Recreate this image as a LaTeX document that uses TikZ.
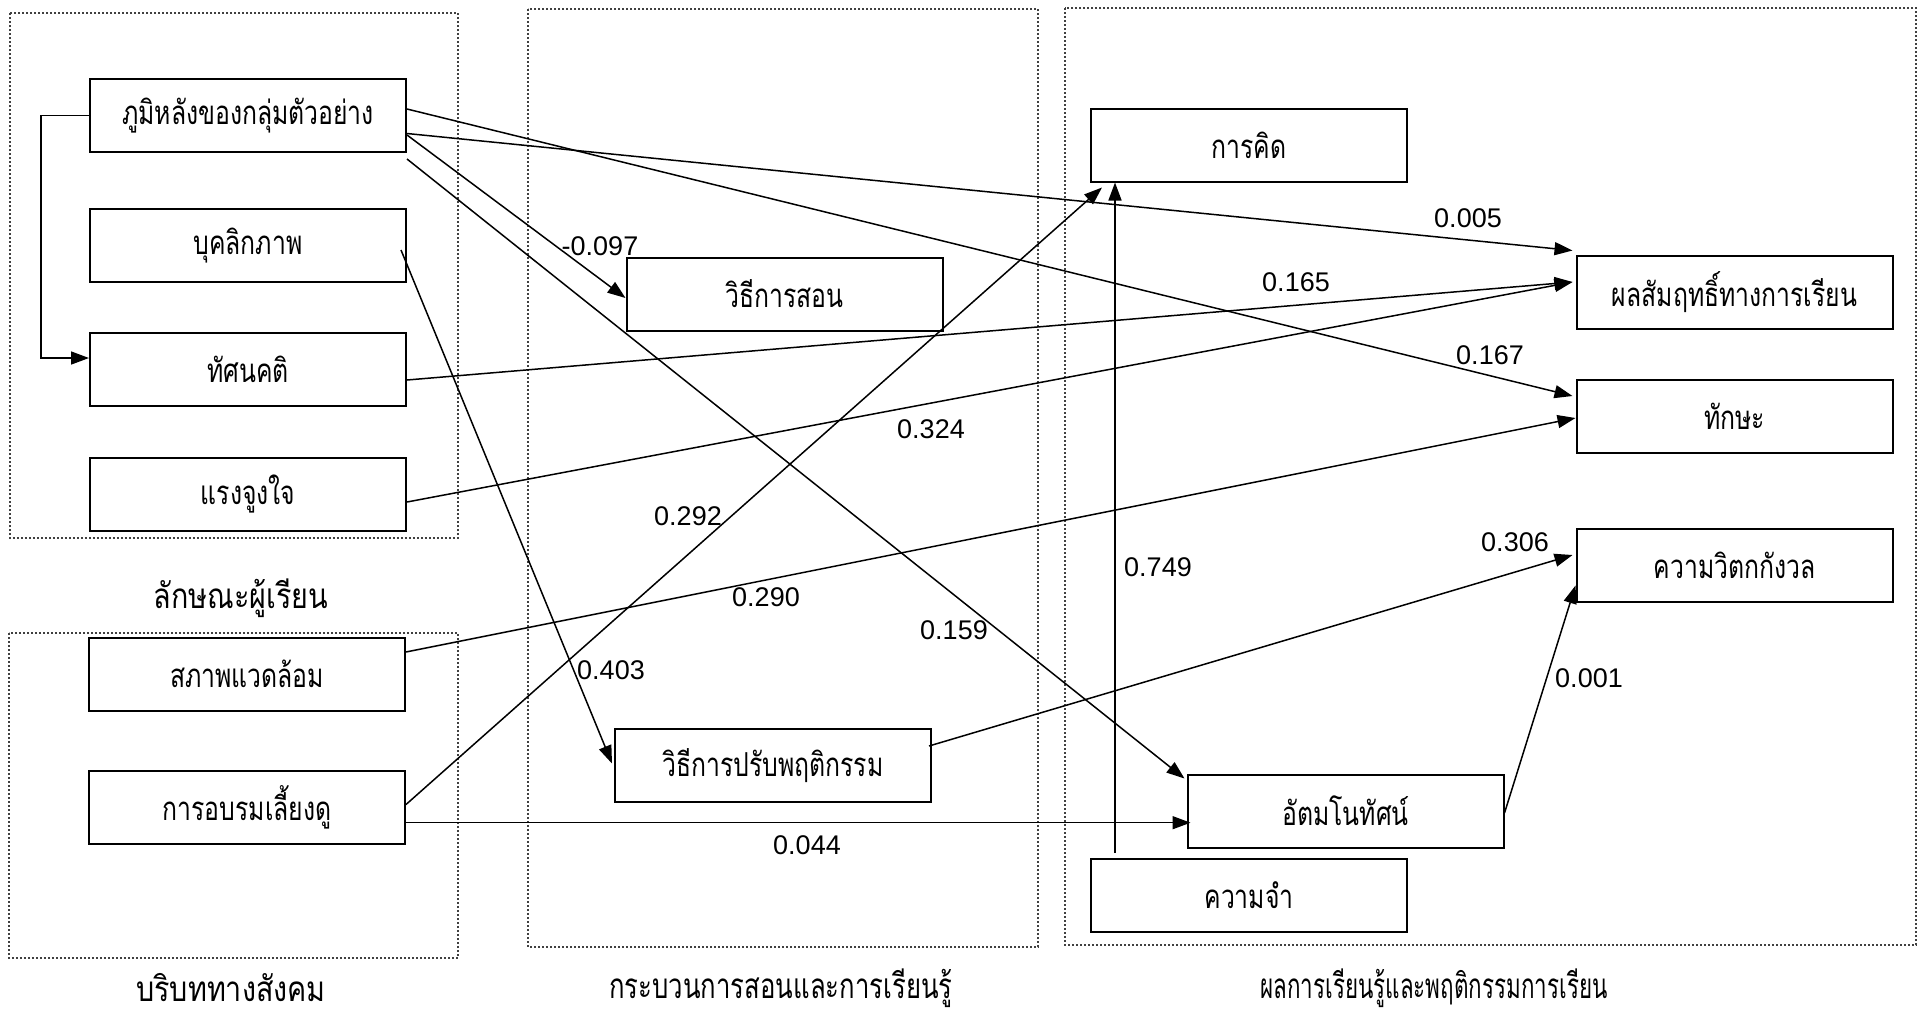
\documentclass[tikz,border=0pt]{standalone}
\usepackage{fontspec}
\setmainfont{Liberation Sans}
\newfontfamily\thai[Script=Thai,FakeStretch=0.75]{Loma}
\newfontfamily\thaimid[Script=Thai,FakeStretch=0.735]{Loma}
\newfontfamily\thainarrow[Script=Thai,FakeStretch=0.64]{Loma}
\newfontfamily\thaiwide[Script=Thai,FakeStretch=0.82]{Loma}
\usetikzlibrary{arrows.meta,calc}
\begin{document}
\begin{tikzpicture}[x=0.5pt,y=-0.5pt,
  box/.style={draw,line width=1pt,minimum width=158pt,minimum height=36.5pt,inner sep=0pt,font=\thai\fontsize{16.5}{19}\selectfont},
  grp/.style={draw=black!75,line width=0.9pt,dash pattern=on 0.9pt off 1.1pt},
  conn/.style={line width=0.75pt,-{Triangle[length=9pt,width=6.5pt]}},
  coef/.style={font=\fontsize{13.5}{16}\selectfont,inner sep=0pt},
  sect/.style={font=\thaiwide\fontsize{17.5}{20}\selectfont,inner sep=0pt}]
\fill[white] (0,0) rectangle (1922,1018);
\useasboundingbox (0,0) rectangle (1922,1018);

% group frames
\draw[grp] (10,13) rectangle (458,538);
\draw[grp] (9,633) rectangle (458,958);
\draw[grp] (528,9) rectangle (1038,947);
\draw[grp] (1065,8) rectangle (1916,945);

% group titles
\node[sect] (tLearner) at (241,598) {ลักษณะผู้เรียน};
\node[sect] (tSocial) at (231,988) {บริบททางสังคม};
\node[sect,font=\thaimid\fontsize{17.5}{20}\selectfont] (tProcess) at (781,988) {กระบวนการสอนและการเรียนรู้};
\node[sect,font=\thainarrow\fontsize{17.5}{20}\selectfont] (tOutcome) at (1434,988) {ผลการเรียนรู้และพฤติกรรมการเรียน};

% boxes
\node[box] (bg) at (248,115.5) {ภูมิหลังของกลุ่มตัวอย่าง};
\node[box] (per) at (248,245.5) {บุคลิกภาพ};
\node[box] (att) at (248,369.5) {ทัศนคติ};
\node[box] (mot) at (248,494) {แรงจูงใจ};
\node[box] (env) at (247,674) {สภาพแวดล้อม};
\node[box] (rear) at (247,807.5) {การอบรมเลี้ยงดู};
\node[box] (teach) at (784.5,294) {วิธีการสอน};
\node[box] (beh) at (773,765.5) {วิธีการปรับพฤติกรรม};
\node[box] (think) at (1249,145) {การคิด};
\node[box] (ach) at (1734.5,292) {ผลสัมฤทธิ์ทางการเรียน};
\node[box] (skill) at (1734.5,416.5) {ทักษะ};
\node[box] (anx) at (1734.5,565) {ความวิตกกังวล};
\node[box] (self) at (1345.5,811) {อัตมโนทัศน์};
\node[box] (mem) at (1249,895.5) {ความจำ};

% connectors
\draw[conn] (bg.west) -- ++(-48,0) |- ($(att.west)+(0,-11.5)$);
\draw[conn] ($(bg.east)+(0,18)$) -- ($(ach.north west)+(-3,-4)$);
\draw[conn] ($(bg.east)+(0,-6.5)$) -- ($(skill.west)+(-3,-20.5)$);
\draw[conn] ($(bg.east)+(0,19.5)$) -- ($(teach.west)+(0,4)$);
\draw[conn] ($(bg.south east)+(0,6)$) -- ($(self.north west)+(-2,5)$);
\draw[conn] ($(per.east)+(-6,4.5)$) -- ($(beh.west)+(-2,-2)$);
\draw[conn] ($(att.east)+(0,10.5)$) -- ($(ach.west)+(-3,-10)$);
\draw[conn] ($(mot.east)+(0,8)$) -- ($(ach.west)+(-3,-10)$);
\draw[conn] ($(env.east)+(0,-22)$) -- ($(skill.west)+(0,1.5)$);
\draw[conn] ($(rear.east)+(0,-3)$) -- ($(think.south west)+(12,5)$);
\draw[conn] ($(rear.east)+(0,15.2)$) -- ($(self.west)+(4,11.7)$);
\draw[conn] ($(beh.east)+(-3,-19.5)$) -- ($(anx.west)+(-3,-10)$);
\draw[conn] ($(self.east)+(0,2)$) -- ($(anx.south west)+(0,-17)$);
\draw[conn] ($(mem.north west)+(25,-5)$) -- ($(think.south west)+(25,0)$);

% coefficients
\node[coef] (c1) at (600,246) {-0.097};
\node[coef] (c2) at (1468,218) {0.005};
\node[coef] (c3) at (1296,282) {0.165};
\node[coef] (c4) at (1490,355) {0.167};
\node[coef] (c5) at (931,429) {0.324};
\node[coef] (c6) at (688,516) {0.292};
\node[coef] (c7) at (766,597) {0.290};
\node[coef] (c8) at (954,630) {0.159};
\node[coef] (c9) at (611,670) {0.403};
\node[coef] (c10) at (1515,542) {0.306};
\node[coef] (c11) at (1158,567) {0.749};
\node[coef] (c12) at (1589,678) {0.001};
\node[coef] (c13) at (807,845) {0.044};
\end{tikzpicture}
\end{document}
